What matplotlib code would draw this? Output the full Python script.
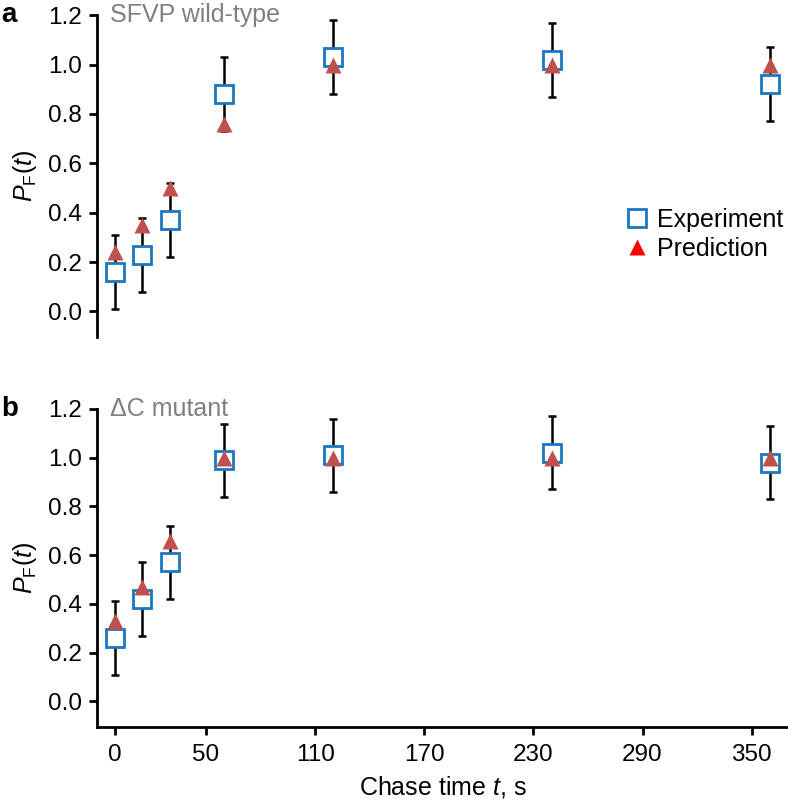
import matplotlib
matplotlib.use("Agg")
import matplotlib.pyplot as plt
from matplotlib.lines import Line2D

plt.rcParams["font.family"] = ["Liberation Sans", "DejaVu Sans"]
plt.rcParams["mathtext.fontset"] = "custom"
plt.rcParams["mathtext.rm"] = "Liberation Sans"
plt.rcParams["mathtext.it"] = "Liberation Sans:italic"

# chase times (s)
t = [0, 15, 30, 60, 120, 240, 360]

# panel a: SFVP wild-type
exp_a = [0.16, 0.23, 0.37, 0.88, 1.03, 1.02, 0.92]
err_a = [0.15, 0.15, 0.15, 0.15, 0.15, 0.15, 0.15]
pred_a = [0.24, 0.35, 0.50, 0.76, 1.00, 1.00, 1.00]

# panel b: delta-C mutant
exp_b = [0.26, 0.42, 0.57, 0.99, 1.01, 1.02, 0.98]
err_b = [0.15, 0.15, 0.15, 0.15, 0.15, 0.15, 0.15]
pred_b = [0.33, 0.47, 0.66, 1.00, 1.00, 1.00, 1.00]

xticks = [0, 50, 110, 170, 230, 290, 350]
yticks = [0.0, 0.2, 0.4, 0.6, 0.8, 1.0, 1.2]

BLUE = "#1a78c2"
TRI = "#c0504d"

fig = plt.figure(figsize=(7.88, 8.05), dpi=100)
ax_a = fig.add_axes([0.123, 0.581, 0.877, 0.400])
ax_b = fig.add_axes([0.123, 0.097, 0.877, 0.395])


def draw(ax, exp, err, pred, title, letter):
    ax.errorbar(t, exp, yerr=err, fmt="none", ecolor="black", elinewidth=1.8,
                capsize=3, capthick=1.8, zorder=2)
    ax.plot(t, exp, ls="none", marker="s", ms=13, mfc="white", mec=BLUE,
            mew=2.0, zorder=3)
    ax.plot(t, pred, ls="none", marker="^", ms=12, color=TRI, mec="none", zorder=4)
    ax.set_xlim(-10, 370)
    ax.set_ylim(-0.105, 1.2)
    ax.set_yticks(yticks)
    ax.set_yticklabels([f"{v:.1f}" for v in yticks])
    ax.set_ylabel(r"$P_\mathrm{F}(\mathit{t})$", fontsize=18, labelpad=6)
    for s in ("top", "right"):
        ax.spines[s].set_visible(False)
    ax.spines["left"].set_linewidth(2)
    ax.spines["bottom"].set_linewidth(2)
    ax.tick_params(axis="both", labelsize=17.5, width=2, length=6, direction="out")
    ax.tick_params(axis="y", pad=5)
    ax.tick_params(axis="x", pad=6)
    ax.text(0.019, 1.0, title, transform=ax.transAxes, fontsize=18,
            color="#808080", va="center", ha="left")
    fig.text(0.002, ax.get_position().y1, letter, fontsize=20,
             fontweight="bold", va="center", ha="left")


draw(ax_a, exp_a, err_a, pred_a, "SFVP wild-type", "a")
draw(ax_b, exp_b, err_b, pred_b, "\u0394C mutant", "b")

ax_a.spines["bottom"].set_visible(False)
ax_a.set_xticks([])
ax_b.set_xticks(xticks)
ax_b.set_xlabel(r"Chase time $\mathit{t}$, s", fontsize=18, labelpad=6)

handles = [
    Line2D([], [], ls="none", marker="s", ms=13, mfc="white", mec=BLUE, mew=2.0),
    Line2D([], [], ls="none", marker="^", ms=12, color="red", mec="none"),
]
ax_a.legend(handles, ["Experiment", "Prediction"], loc="center right",
            bbox_to_anchor=(1.0, 0.32), frameon=False, fontsize=18,
            handletextpad=0.3, borderpad=0, labelspacing=0.2, handlelength=1.0,
            borderaxespad=0.2)

fig.savefig("out.png", dpi=100)
